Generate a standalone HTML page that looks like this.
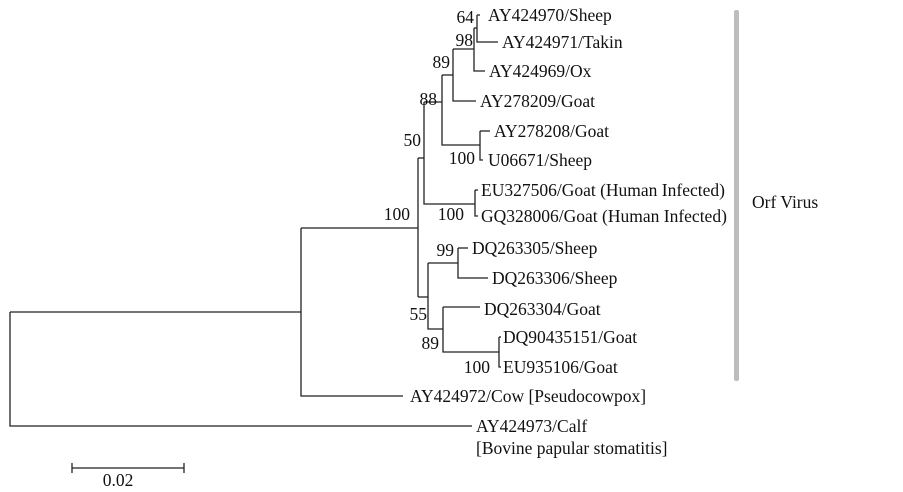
<!DOCTYPE html>
<html><head><meta charset="utf-8"><style>
html,body{margin:0;padding:0;background:#fff;}
svg{display:block;}
text{font-family:"Liberation Serif",serif;font-size:17.5px;fill:#111;}
.n{text-anchor:end;}
</style></head><body>
<svg width="903" height="492" viewBox="0 0 903 492" xmlns="http://www.w3.org/2000/svg">
<g stroke="#222" stroke-width="1.3" fill="none">
<path d="M10,312V426H472"/>
<path d="M10,312H301"/>
<path d="M301,228V396H403"/>
<path d="M301,228H418"/>
<path d="M418,158V297"/>
<path d="M418,158H424"/>
<path d="M418,297H428"/>
<path d="M424,102V204H475"/>
<path d="M424,102H442"/>
<path d="M442,75V145H480"/>
<path d="M442,75H453"/>
<path d="M453,49V101H476"/>
<path d="M453,49H474"/>
<path d="M474,28V71H485"/>
<path d="M474,28H477"/>
<path d="M477,15V42H498"/>
<path d="M477,15H480"/>
<path d="M480,131V160H483"/>
<path d="M480,131H490"/>
<path d="M475,190V216H478"/>
<path d="M475,190H478"/>
<path d="M428,263V329H443"/>
<path d="M428,263H458"/>
<path d="M458,248V278H488"/>
<path d="M458,248H468"/>
<path d="M443,307V352H499"/>
<path d="M443,307H480"/>
<path d="M499,337V367H501"/>
<path d="M499,337H501"/>
<path d="M72,468H184M72,463V473M184,463V473"/>
</g>
<rect x="734" y="10" width="5" height="371" fill="#bdbdbd" rx="2"/>
<text x="488" y="21">AY424970/Sheep</text>
<text x="502" y="48">AY424971/Takin</text>
<text x="489" y="77">AY424969/Ox</text>
<text x="480" y="107">AY278209/Goat</text>
<text x="494" y="137">AY278208/Goat</text>
<text x="488" y="166">U06671/Sheep</text>
<text x="481" y="196">EU327506/Goat (Human Infected)</text>
<text x="481" y="222">GQ328006/Goat (Human Infected)</text>
<text x="472" y="254">DQ263305/Sheep</text>
<text x="492" y="284">DQ263306/Sheep</text>
<text x="484" y="315">DQ263304/Goat</text>
<text x="503" y="343">DQ90435151/Goat</text>
<text x="503" y="373">EU935106/Goat</text>
<text x="410" y="402">AY424972/Cow [Pseudocowpox]</text>
<text x="476" y="432">AY424973/Calf</text>
<text x="476" y="454">[Bovine papular stomatitis]</text>
<text x="752" y="208">Orf Virus</text>
<text x="118" y="486" text-anchor="middle">0.02</text>
<text class="n" x="474" y="23">64</text>
<text class="n" x="473" y="46">98</text>
<text class="n" x="450" y="68">89</text>
<text class="n" x="437" y="105">88</text>
<text class="n" x="421" y="146">50</text>
<text class="n" x="410" y="220">100</text>
<text class="n" x="464" y="220">100</text>
<text class="n" x="475" y="164">100</text>
<text class="n" x="454" y="256">99</text>
<text class="n" x="427" y="320">55</text>
<text class="n" x="439" y="349">89</text>
<text class="n" x="490" y="373">100</text>
</svg>
</body></html>
